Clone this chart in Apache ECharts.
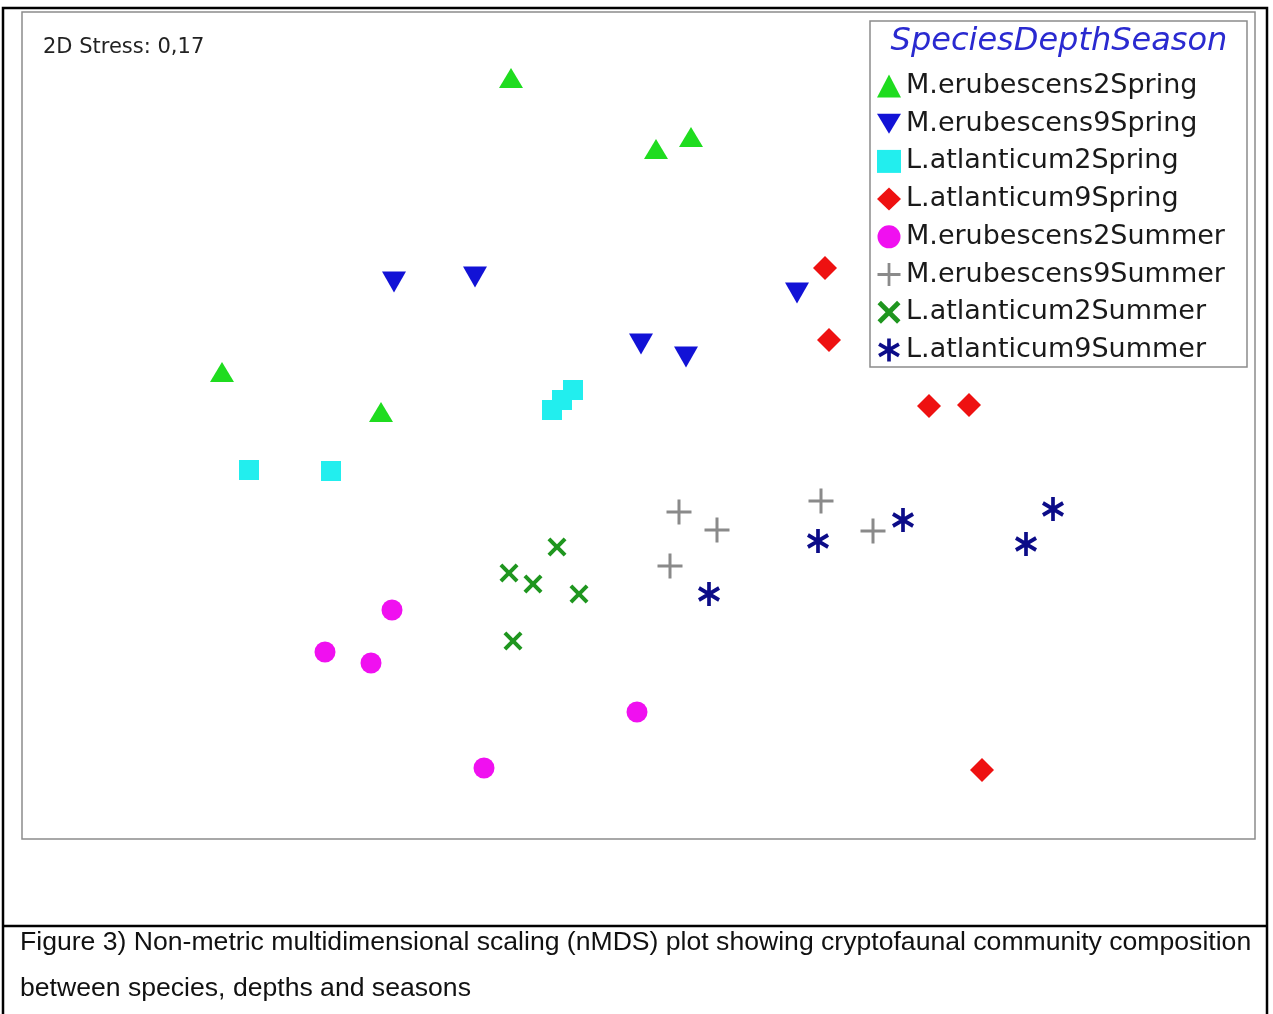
<!DOCTYPE html>
<html>
<head>
<meta charset="utf-8">
<script src="https://cdn.jsdelivr.net/npm/echarts@6/dist/echarts.min.js"></script>
<style>
html,body{margin:0;padding:0;background:#fff;}
#chart{width:1273px;height:1014px;}
</style>
</head>
<body>
<div id="chart"></div>
<script>
// nMDS coordinates (plot units)
const seriesNames = [
  'M.erubescens2Spring', 'M.erubescens9Spring', 'L.atlanticum2Spring', 'L.atlanticum9Spring',
  'M.erubescens2Summer', 'M.erubescens9Summer', 'L.atlanticum2Summer', 'L.atlanticum9Summer'
];
const mEru2Spring = [[489, 761], [634, 690], [669, 702], [200, 467], [359, 427]];
const mEru9Spring = [[372, 557], [453, 562], [619, 495], [664, 482], [775, 546]];
const lAtl2Spring = [[227, 369], [309, 368], [530, 429], [540, 439], [551, 449]];
const lAtl9Spring = [[803, 571], [807, 499], [907, 433], [947, 434], [960, 69]];
const mEru2Summer = [[370, 229], [303, 187], [349, 176], [615, 127], [462, 71]];
const mEru9Summer = [[657, 327], [695, 309], [648, 273], [799, 338], [851, 308]];
const lAtl2Summer = [[535, 292], [487, 266], [511, 255], [557, 245], [491, 198]];
const lAtl9Summer = [[687, 245], [796, 298], [881, 319], [1004, 295], [1031, 330]];
const stressLabel = '2D Stress: 0,17';
const legendTitle = 'SpeciesDepthSeason';
const captionLines = [
  'Figure 3) Non-metric multidimensional scaling (nMDS) plot showing cryptofaunal community composition',
  'between species, depths and seasons'
];

const PLUS = 'path://M11,0H14V11H25V14H14V25H11V14H0V11H11Z';
const CROSS = 'path://M0,3L3,0L10,7L17,0L20,3L13,10L20,17L17,20L10,13L3,20L0,17L7,10Z';
const STAR = 'path://M10.1,0H13.9V24H10.1Z M0.66,7.645L2.56,4.355L23.34,16.355L21.44,19.645Z M0.66,16.355L21.44,4.355L23.34,7.645L2.56,19.645Z';
const DOWN = 'path://M0,0H24L12,20Z';

const styles = [
  {symbol: 'triangle', size: [24, 20], rotate: 0, color: '#1fdc1f', icon: 'triangle'},
  {symbol: 'triangle', size: [24, 21], rotate: 180, color: '#1212d6', icon: DOWN},
  {symbol: 'rect', size: 20, rotate: 0, color: '#22eeee', icon: 'rect'},
  {symbol: 'diamond', size: 24, rotate: 0, color: '#ee1111', icon: 'diamond'},
  {symbol: 'circle', size: 21, rotate: 0, color: '#f010f0', icon: 'circle'},
  {symbol: PLUS, size: 25, rotate: 0, color: '#8a8a8a', icon: PLUS},
  {symbol: CROSS, size: 19, rotate: 0, color: '#1f961f', icon: CROSS},
  {symbol: STAR, size: [22, 24], rotate: 0, color: '#0c0c88', icon: STAR}
];
const allData = [mEru2Spring, mEru9Spring, lAtl2Spring, lAtl9Spring, mEru2Summer, mEru9Summer, lAtl2Summer, lAtl9Summer];

const chart = echarts.init(document.getElementById('chart'), null, {renderer: 'canvas'});
const series = seriesNames.map((name, i) => ({
  name: name,
  type: 'scatter',
  data: allData[i],
  symbol: styles[i].symbol,
  symbolSize: styles[i].size,
  symbolRotate: styles[i].rotate,
  itemStyle: {color: styles[i].color, opacity: 1},
  emphasis: {disabled: true}
}));

chart.setOption({
  animation: false,
  backgroundColor: '#ffffff',
  grid: {left: 22, right: 18, top: 12, bottom: 175, show: true, borderColor: '#8c8c8c', borderWidth: 1.5, backgroundColor: 'transparent'},
  xAxis: {type: 'value', min: 0, max: 1233, axisLine: {show: false}, axisTick: {show: false}, axisLabel: {show: false}, splitLine: {show: false}},
  yAxis: {type: 'value', min: 0, max: 827, axisLine: {show: false}, axisTick: {show: false}, axisLabel: {show: false}, splitLine: {show: false}},
  legend: {
    orient: 'vertical',
    left: 877,
    top: 72,
    padding: 0,
    itemGap: 9.7,
    itemWidth: 24,
    itemHeight: 23,
    selectedMode: false,
    symbolRotate: 0,
    data: seriesNames.map((n, i) => ({name: n, icon: styles[i].icon, itemStyle: {color: styles[i].color}})),
    textStyle: {fontFamily: 'DejaVu Sans', fontSize: 27, lineHeight: 28, color: '#1a1a1a'}
  },
  graphic: [
    {type: 'rect', z: -1, shape: {x: 3, y: 8, width: 1264, height: 1030}, style: {fill: 'none', stroke: '#000', lineWidth: 2.5}},
    {type: 'line', z: -1, shape: {x1: 3, y1: 926, x2: 1267, y2: 926}, style: {stroke: '#000', lineWidth: 2.5}},
    {type: 'rect', z: 1, shape: {x: 870, y: 21, width: 377, height: 346}, style: {fill: 'none', stroke: '#8c8c8c', lineWidth: 1.5}},
    {type: 'text', z: 5, x: 1059, y: 42, style: {text: legendTitle, fontFamily: 'DejaVu Sans', fontStyle: 'italic', fontSize: 32, fill: '#2a2ad0', align: 'center', verticalAlign: 'middle'}},
    {type: 'text', z: 5, x: 43, y: 48, style: {text: stressLabel, fontFamily: 'DejaVu Sans', fontSize: 21, fill: '#222', align: 'left', verticalAlign: 'middle'}},
    {type: 'text', z: 5, x: 20, y: 943, style: {text: captionLines[0], fontFamily: 'Liberation Sans, Arial', fontSize: 26.6, fill: '#111', align: 'left', verticalAlign: 'middle'}},
    {type: 'text', z: 5, x: 20, y: 989, style: {text: captionLines[1], fontFamily: 'Liberation Sans, Arial', fontSize: 26.6, fill: '#111', align: 'left', verticalAlign: 'middle'}}
  ],
  series: series
});
</script>
</body>
</html>
